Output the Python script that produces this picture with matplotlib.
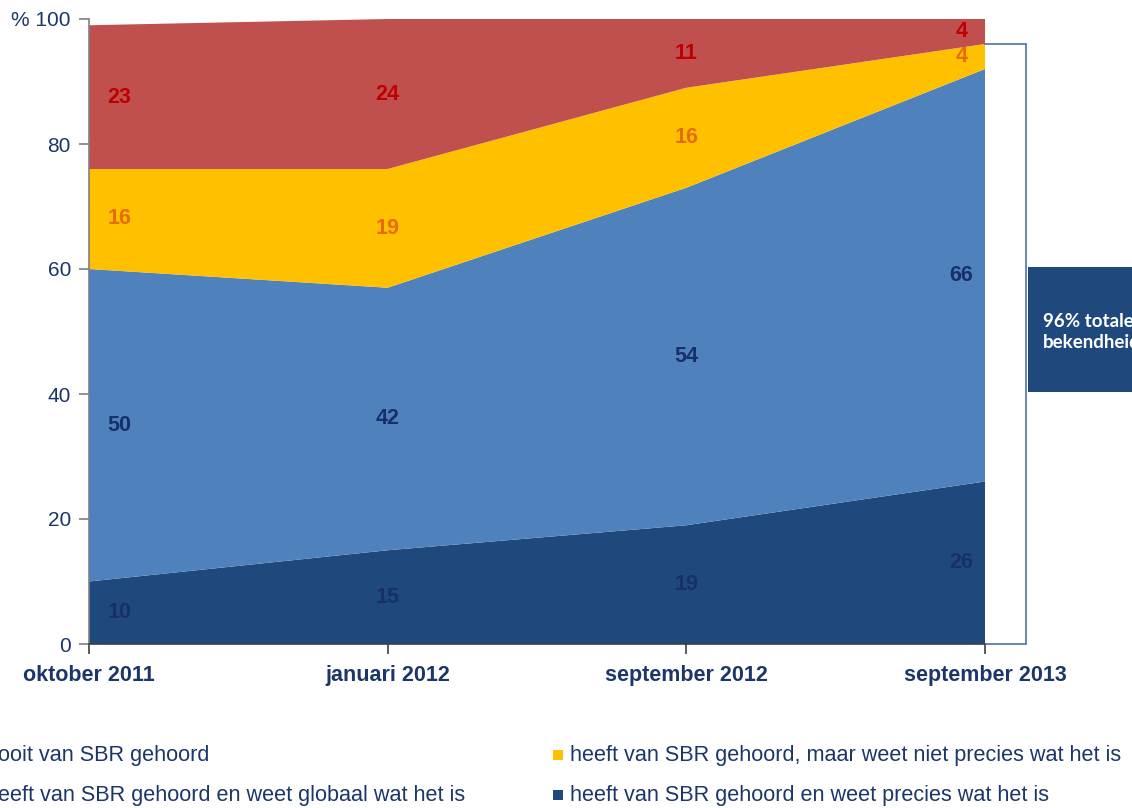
import matplotlib
matplotlib.use("Agg")
import matplotlib.pyplot as plt
from matplotlib.patches import Rectangle
import numpy as np

plt.rcParams['font.family'] = ['Liberation Sans', 'DejaVu Sans']

categories = ["oktober 2011", "januari 2012", "september 2012", "september 2013"]
precies = [10, 15, 19, 26]
globaal = [50, 42, 54, 66]
niet_precies = [16, 19, 16, 4]
nooit = [23, 24, 11, 4]
series = [precies, globaal, niet_precies, nooit]
legend_labels = ["nooit van SBR gehoord",
                 "heeft van SBR gehoord en weet globaal wat het is",
                 "heeft van SBR gehoord, maar weet niet precies wat het is",
                 "heeft van SBR gehoord en weet precies wat het is"]
yticks = [0, 20, 40, 60, 80, 100]
ytick_labels = ["0", "20", "40", "60", "80", "% 100"]
box_text = "96% totale\nbekendheid"

colors = ['#1F497D', '#4F81BD', '#FFC000', '#C0504D']
label_colors = ['#17306A', '#17306A', '#E46C0A', '#C00000']
navy = '#1b3668'

W, H = 1132, 808
fig = plt.figure(figsize=(W / 100, H / 100), dpi=100)
ax = fig.add_axes([89 / W, 1 - 644 / H, (985 - 89) / W, (644 - 19) / H])

x = np.arange(len(categories))
ax.stackplot(x, *series, colors=colors, linewidth=0)
ax.set_xlim(0, len(categories) - 1)
ax.set_ylim(0, 100)

ax.set_yticks(yticks)
ax.set_yticklabels(ytick_labels)
ax.set_xticks(x)
ax.set_xticklabels(categories, fontweight='bold')
ax.tick_params(axis='y', labelsize=15, colors='#808080', labelcolor=navy, length=7, width=1.2, pad=6)
ax.tick_params(axis='x', labelsize=15.5, colors='#404040', labelcolor=navy, length=7, width=1.2, pad=8)
for s in ['top', 'right']:
    ax.spines[s].set_visible(False)
ax.spines['left'].set_color('#808080')
ax.spines['left'].set_linewidth(1.2)
ax.spines['bottom'].set_color('#404040')
ax.spines['bottom'].set_linewidth(1.2)

# data labels at segment midpoints
cum = np.zeros(len(categories))
offsets = [22, 0, 0, -17]
for vals, lc in zip(series, label_colors):
    vals = np.array(vals, dtype=float)
    mids = cum + vals / 2
    for i, (v, m) in enumerate(zip(vals, mids)):
        ax.annotate(f"{int(v)}", (x[i], m), xytext=(offsets[i], 0), textcoords='offset points',
                    ha='center', va='center', fontsize=15.5, fontweight='bold', color=lc)
    cum += vals

# bracket
total_known = precies[-1] + globaal[-1] + niet_precies[-1]
bx = 3 + 41 / 298.7
ax.plot([3, bx, bx, 3], [total_known, total_known, 0, 0], color='#5A7DAA',
        linewidth=1.3, clip_on=False, solid_joinstyle='miter')

# box
fig.patches.append(Rectangle((1028 / W, 1 - 392 / H), 120 / W, 125 / H,
                             transform=fig.transFigure, facecolor='#1F497D', edgecolor='none'))
fig.text(1043 / W, 1 - 332 / H, box_text, fontsize=13.5, fontweight='bold', color='white',
         family=['Lato', 'DejaVu Sans'], va='center', ha='left', linespacing=1.3)

# legend
leg_pos = [(-14, 755), (-14, 795), (570, 755), (570, 795)]
leg_cols = [colors[3], colors[1], colors[2], colors[0]]
for (lx, ly), lab, c in zip(leg_pos, legend_labels, leg_cols):
    fig.patches.append(Rectangle(((lx - 17) / W, 1 - (ly + 5) / H), 10 / W, 10 / H,
                                 transform=fig.transFigure, facecolor=c, edgecolor='none'))
    fig.text(lx / W, 1 - ly / H, lab, fontsize=15.6, color=navy, va='center', ha='left')

fig.savefig("out.png", dpi=100)
